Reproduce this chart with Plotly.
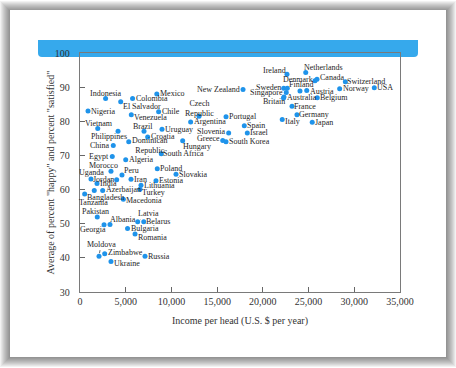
import plotly.graph_objects as go

# ---------------- data ----------------
countries = [
    "Indonesia", "Mexico", "Colombia", "El Salvador", "Nigeria", "Chile", "Venezuela",
    "Vietnam", "Brazil", "Uruguay", "Philippines", "Croatia", "Dominican Republic",
    "Hungary", "China", "Egypt", "Algeria", "South Africa", "Argentina", "Czech Republic",
    "Portugal", "Spain", "Israel", "Slovenia", "Greece", "South Korea", "New Zealand",
    "Ireland", "Netherlands", "Denmark", "Canada", "Switzerland", "USA", "Norway",
    "Sweden", "", "Finland", "Austria", "Singapore", "Australia", "Britain", "Belgium",
    "France", "Germany", "Italy", "Japan", "Morocco", "Uganda", "Jordan", "Peru", "Iran",
    "Poland", "Slovakia", "Estonia", "India", "Lithuania", "Turkey", "Azerbaijan",
    "Tanzania", "Bangladesh", "Macedonia", "Pakistan", "Albania", "Georgia", "Latvia",
    "Belarus", "Bulgaria", "Romania", "Moldova", "Zimbabwe", "Russia", "Ukraine",
]
income = [
    2800, 8400, 5750, 4450, 875, 8600, 5610,
    1940, 7000, 8970, 4160, 7400, 5330,
    11230, 3640, 3530, 5000, 8890, 12100, 13020,
    15970, 17970, 18300, 16260, 15610, 15970, 17830,
    22640, 24690, 25700, 25920, 29020, 32190, 28400,
    22280, 22670, 24060, 24800, 22560, 22310, 22260, 25950,
    23190, 23730, 22120, 25400, 3390, 1200, 4010, 4590, 5580,
    8450, 10500, 8310, 1860, 6670, 6560, 2480,
    1560, 510, 4740, 1890, 3280, 2630, 6310,
    6970, 5200, 6020, 2080, 2700, 7110, 3390,
]
happiness = [
    86.7, 88.0, 86.7, 85.7, 83.0, 82.8, 81.9,
    77.9, 77.1, 77.7, 77.1, 75.4, 74.0,
    74.3, 72.9, 69.7, 68.7, 70.5, 79.8, 81.5,
    81.3, 78.7, 76.6, 76.6, 74.4, 74.0, 89.3,
    93.8, 94.3, 91.9, 92.3, 91.6, 89.8, 89.5,
    89.7, 89.7, 88.9, 89.0, 88.4, 87.1, 86.8, 86.9,
    84.4, 81.9, 80.5, 79.7, 65.4, 63.1, 62.9, 64.3, 63.0,
    66.1, 64.5, 62.6, 61.8, 61.3, 60.1, 59.7,
    59.7, 58.7, 57.2, 52.0, 49.8, 49.7, 50.6,
    50.6, 48.6, 47.0, 40.5, 41.2, 40.5, 38.9,
]
x_ticks = [0, 5000, 10000, 15000, 20000, 25000, 30000, 35000]
y_ticks = [30, 40, 50, 60, 70, 80, 90, 100]
x_title = "Income per head (U.S. $ per year)"
y_title = 'Average of percent "happy" and percent "satisfied"'

# ---------------- label styling (anchor, x-offset px, y-offset px) ----------------
label_style = {
    "Indonesia": ("center", 0, 5), "Mexico": ("left", 2, 0), "Colombia": ("left", 2, 0),
    "El Salvador": ("left", 1, -5), "Nigeria": ("left", 2, 0), "Chile": ("left", 2, 0),
    "Venezuela": ("left", 2, -3), "Vietnam": ("center", 1.5, 4.5), "Brazil": ("center", -1, 5),
    "Uruguay": ("left", 2, 0), "Philippines": ("center", -9, -5), "Croatia": ("left", 2, 0),
    "Dominican Republic": ("left", 2, -4), "Hungary": ("left", -1, -6),
    "China": ("right", -2, 0), "Egypt": ("right", -2, 0), "Algeria": ("left", 2, 0),
    "South Africa": ("left", 1, 0), "Argentina": ("left", 2, 0),
    "Czech Republic": ("center", 0, 8), "Portugal": ("left", 2, 0), "Spain": ("left", 2, 0),
    "Israel": ("left", 2, 0), "Slovenia": ("right", -3, 1), "Greece": ("right", -2, 2),
    "South Korea": ("left", 2, 0), "New Zealand": ("right", -2, 0), "Ireland": ("right", 0, 4),
    "Netherlands": ("left", -3, 5), "Denmark": ("right", -1, 1), "Canada": ("left", 2, 2),
    "Switzerland": ("left", 1, 0), "USA": ("left", 2, 0), "Norway": ("left", 2, 0),
    "Sweden": ("right", -2, 1), "Finland": ("center", 1, 6), "Austria": ("left", 2, -1),
    "Singapore": ("right", -2, 0), "Australia": ("left", 2, -0.5), "Britain": ("right", 2, -3),
    "Belgium": ("left", 2, 0), "France": ("left", 1, 0), "Germany": ("left", 1, 0),
    "Italy": ("left", 2, -1.5), "Japan": ("left", 2, -0.5), "Morocco": ("center", -7.5, 5.5),
    "Uganda": ("center", 1, 6.5), "Jordan": ("right", -1.5, 0.5), "Peru": ("left", 1.5, 4),
    "Iran": ("left", 1.5, 0), "Poland": ("left", 2, 0), "Slovakia": ("left", 2, 0),
    "Estonia": ("left", 2, 0), "India": ("left", 2, 0), "Lithuania": ("left", 2, 0),
    "Turkey": ("left", 1.5, -3.5), "Azerbaijan": ("left", 2, 1), "Tanzania": ("center", -1, -12),
    "Bangladesh": ("left", 1, -3.5), "Macedonia": ("left", 2, -1), "Pakistan": ("center", -2, 5),
    "Albania": ("left", -1, 4.5), "Georgia": ("center", -11.5, -4.5), "Belarus": ("left", 1.5, 0),
    "Bulgaria": ("left", 2, 0), "Romania": ("left", 2, -4), "Zimbabwe": ("left", 2, 1.5),
    "Russia": ("left", 2, 0), "Ukraine": ("left", 2, -2),
}
arrow_labels = {"Latvia": (11, -8), "Moldova": (2, -12)}
two_line = {"Dominican Republic": "Dominican<br>Republic", "Czech Republic": "Czech<br>Republic"}

SERIF = "Liberation Serif"
LABEL_FONT = dict(family=SERIF, size=8, color="#1e1e1e")
AXIS_FONT = dict(family=SERIF, size=10, color="#333")

fig = go.Figure()
fig.add_trace(go.Scatter(
    x=income, y=happiness, mode="markers",
    marker=dict(color="#1f93ea", size=5, line=dict(width=0)),
    hoverinfo="text", text=countries, showlegend=False,
))

annotations = []
for name, xv, yv in zip(countries, income, happiness):
    if not name:
        continue
    txt = two_line.get(name, name)
    if name in arrow_labels:
        ax, ay = arrow_labels[name]
        annotations.append(dict(
            x=xv, y=yv, xref="x", yref="y", text=txt, showarrow=True,
            arrowhead=0, arrowwidth=0.8, arrowcolor="#444", ax=ax, ay=ay,
            standoff=3, font=LABEL_FONT,
        ))
    else:
        anchor, dx, dy = label_style[name]
        annotations.append(dict(
            x=xv, y=yv, xref="x", yref="y", text=txt, showarrow=False,
            xanchor=anchor, yanchor="middle", xshift=dx, yshift=dy,
            align="center", font=LABEL_FONT, borderpad=0,
        ))

# ---------------- card / banner decoration ----------------
L, R, T, B = 80, 56, 53, 76
W, H = 456, 368
pw, ph = W - L - R, H - T - B


def px_x(p):
    return (p - L) / pw


def px_y(p):
    return (H - B - p) / ph


# y-axis title as rotated annotation
annotations.append(dict(
    xref="paper", yref="paper", x=px_x(50), y=0.5, text=y_title, textangle=-90,
    showarrow=False, xanchor="center", yanchor="middle", font=AXIS_FONT,
))

shapes = []
for i in range(10, 0, -1):
    shapes.append(dict(
        type="rect", xref="paper", yref="paper", layer="below",
        x0=px_x(10 - i), x1=px_x(446 + i), y0=px_y(357 + i), y1=px_y(10 - i + 1),
        fillcolor="rgba(0,0,0,0.05)", line=dict(width=0),
    ))
shapes.append(dict(
    type="rect", xref="paper", yref="paper", layer="below",
    x0=px_x(10), x1=px_x(446), y0=px_y(357), y1=px_y(10),
    fillcolor="white", line=dict(width=0),
))
# blue banner with rounded bottom corners
r = 4
bx0, bx1, by0, by1 = 38, 418, 40, 57
path = (
    f"M {px_x(bx0)},{px_y(by0)} L {px_x(bx1)},{px_y(by0)} "
    f"L {px_x(bx1)},{px_y(by1 - r)} Q {px_x(bx1)},{px_y(by1)} {px_x(bx1 - r)},{px_y(by1)} "
    f"L {px_x(bx0 + r)},{px_y(by1)} Q {px_x(bx0)},{px_y(by1)} {px_x(bx0)},{px_y(by1 - r)} Z"
)
shapes.append(dict(
    type="path", xref="paper", yref="paper", layer="below", path=path,
    fillcolor="#36a9ec", line=dict(width=0),
))

axis_common = dict(
    showline=True, linecolor="#7a7a7a", linewidth=1.3, mirror=True,
    ticks="inside", ticklen=5, tickwidth=1, tickcolor="#666",
    showgrid=False, zeroline=False,
    tickfont=AXIS_FONT,
)

fig.update_layout(
    width=W, height=H,
    margin=dict(l=L, r=R, t=T, b=B, autoexpand=False),
    paper_bgcolor="white", plot_bgcolor="rgba(0,0,0,0)",
    shapes=shapes, annotations=annotations,
    xaxis=dict(
        range=[0, 35000], tickvals=x_ticks, tickformat=",d",
        title=dict(text=x_title, font=AXIS_FONT, standoff=10),
        **axis_common,
    ),
    yaxis=dict(
        range=[30, 100], tickvals=y_ticks, ticklabelstandoff=7,
        **axis_common,
    ),
)

fig.write_html(
    "out.html",
    config={"displayModeBar": False},
    post_script="document.body.style.margin='0';",
)
